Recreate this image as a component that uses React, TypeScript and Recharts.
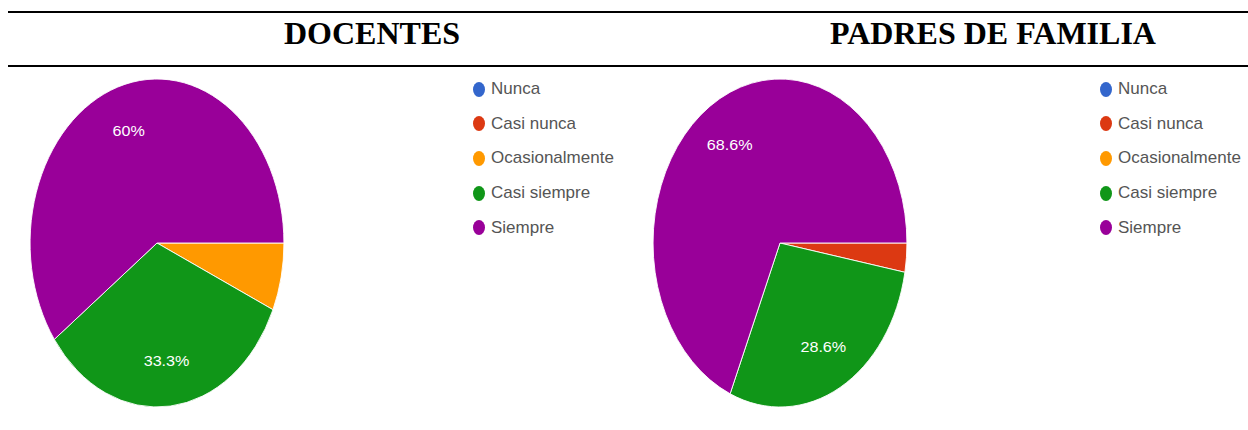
import { Cell, Pie, PieChart } from 'recharts';

// Respuestas de la encuesta (conteos por categoría)
const categories = ['Nunca', 'Casi nunca', 'Ocasionalmente', 'Casi siempre', 'Siempre'];
const sliceColors = ['#3366cc', '#dc3912', '#ff9900', '#109618', '#990099'];
const docentesCounts = [0, 0, 1, 5, 9];
const padresCounts = [0, 1, 0, 10, 24];
const panelTitles = ['DOCENTES', 'PADRES DE FAMILIA'];

const RADIUS = 164;
const SQUASH = 0.774; // the pies in the picture are ellipses
const BOX = 340;

const buildRows = (counts: number[]) =>
  categories.map((name, i) => ({ name, value: counts[i] }));

const renderLabel = (props: any) => {
  const { cx, cy, midAngle, outerRadius, percent } = props;
  if (percent < 0.1) return null;
  const rad = Math.PI / 180;
  const r = outerRadius * 0.72;
  const x = cx + r * Math.cos(-midAngle * rad);
  const y = cy + r * Math.sin(-midAngle * rad);
  const pct = Math.round(percent * 1000) / 10;
  return (
    <g transform={`translate(${x},${y}) scale(1.49,1)`}>
      <text
        x={0}
        y={0}
        textAnchor="middle"
        dominantBaseline="central"
        fill="#ffffff"
        fontSize={14}
        fontFamily="'Liberation Sans', Arial, sans-serif"
      >
        {`${pct}%`}
      </text>
    </g>
  );
};

interface PanelProps {
  counts: number[];
  cx: number;
  legendX: number;
}

const Panel = ({ counts, cx, legendX }: PanelProps) => (
  <>
    <div
      style={{
        position: 'absolute',
        left: cx - BOX / 2,
        top: 243 - BOX / 2,
        width: BOX,
        height: BOX,
        transform: `scaleX(${SQUASH})`,
        transformOrigin: 'center',
      }}
    >
      <PieChart width={BOX} height={BOX} margin={{ top: 0, right: 0, bottom: 0, left: 0 }}>
        <Pie
          data={buildRows(counts)}
          dataKey="value"
          nameKey="name"
          cx="50%"
          cy="50%"
          outerRadius={RADIUS}
          startAngle={0}
          endAngle={-360}
          stroke="#ffffff"
          strokeWidth={1}
          label={renderLabel}
          labelLine={false}
          isAnimationActive={false}
        >
          {categories.map((c, i) => (
            <Cell key={c} fill={sliceColors[i]} />
          ))}
        </Pie>
      </PieChart>
    </div>
    {categories.map((c, i) => (
      <div
        key={c}
        style={{
          position: 'absolute',
          left: legendX - 6,
          top: 89 + i * 34.7 - 10,
          height: 20,
          display: 'flex',
          alignItems: 'center',
          whiteSpace: 'nowrap',
        }}
      >
        <span
          style={{
            display: 'inline-block',
            width: 12,
            height: 15,
            borderRadius: '50%',
            background: sliceColors[i],
          }}
        />
        <span
          style={{
            marginLeft: 6,
            fontFamily: "'Liberation Sans', Arial, sans-serif",
            fontSize: 17,
            color: '#555',
          }}
        >
          {c}
        </span>
      </div>
    ))}
  </>
);

const rule = (top: number) => (
  <div style={{ position: 'absolute', left: 8, top, width: 1240, height: 2, background: '#000' }} />
);

const titleStyle = (center: number): React.CSSProperties => ({
  position: 'absolute',
  left: center - 300,
  top: 17,
  width: 600,
  textAlign: 'center',
  fontFamily: "'Liberation Serif', 'Times New Roman', serif",
  fontWeight: 'bold',
  fontSize: 32,
  lineHeight: '32px',
  color: '#000',
});

export default function App() {
  return (
    <div
      style={{
        position: 'absolute',
        left: 0,
        top: 0,
        width: 1248,
        height: 430,
        background: '#fff',
        overflow: 'hidden',
      }}
    >
      {rule(11)}
      {rule(65)}
      <div style={titleStyle(372)}>{panelTitles[0]}</div>
      <div style={titleStyle(993)}>{panelTitles[1]}</div>
      <Panel counts={docentesCounts} cx={157} legendX={479} />
      <Panel counts={padresCounts} cx={780} legendX={1106} />
    </div>
  );
}
